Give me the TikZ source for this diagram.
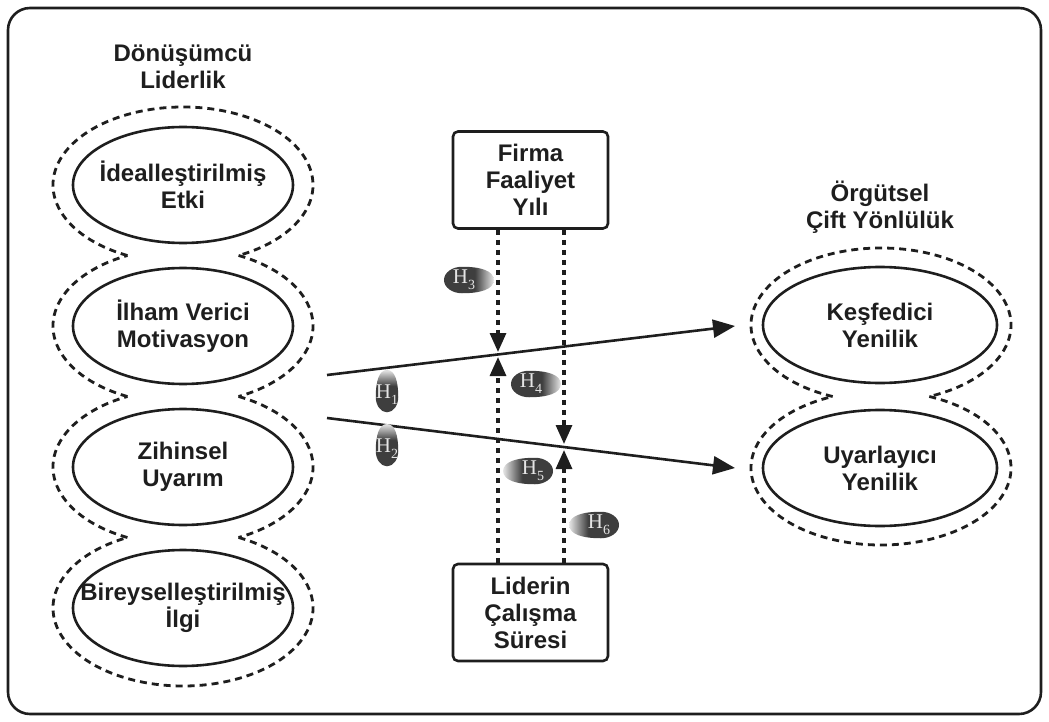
\documentclass[tikz,border=0pt]{standalone}
\usepackage{fontspec}
\setmainfont{Liberation Sans}
\newfontfamily\hfont{Liberation Serif}
\usetikzlibrary{arrows.meta,shapes.geometric}
\definecolor{ink}{HTML}{1E1E1E}
\definecolor{dropc}{HTML}{3E3E3E}
\definecolor{dropl}{HTML}{DDDDDD}
\pgfdeclarehorizontalshading{dropshade}{100bp}{color(0bp)=(dropc); color(25bp)=(dropc); color(56bp)=(dropc); color(74bp)=(dropl); color(100bp)=(dropl)}
\newcommand\hsub[1]{\raisebox{-0.28em}{\fontsize{14}{14}\selectfont #1}}
\begin{document}
\begin{tikzpicture}[x=1pt,y=-1pt,
  txt/.style={align=center,font=\fontsize{24}{27}\selectfont\bfseries,text=ink,inner sep=0pt},
  ellbox/.style={ellipse,draw=ink,line width=2.6pt,minimum width=220pt,minimum height=116pt,inner sep=0pt},
  outl/.style={draw=ink,line width=2.8pt,dash pattern=on 7pt off 5pt},
  boxn/.style={draw=ink,line width=2.6pt,rounded corners=5pt,minimum width=155pt,minimum height=97pt,align=center,font=\fontsize{24}{27}\selectfont\bfseries,text=ink,inner sep=0pt},
  mainarr/.style={draw=ink,line width=2.6pt,-{Triangle[length=22pt,width=18pt]}},
  modarr/.style={draw=ink,line width=3.2pt,dash pattern=on 5pt off 5pt,-{Triangle[length=19pt,width=16pt]}},
  hlab/.style={font=\hfont\fontsize{21}{21}\selectfont,text=white!90!black,inner sep=0pt},
  drop/.pic={\shade[shading=dropshade] (0,12.5) arc[start angle=90,end angle=270,x radius=17,y radius=12.5] .. controls (17,-12.5) and (30,-9) .. (30,0) .. controls (30,9) and (17,12.5) .. cycle;}
]
\useasboundingbox (0,0) rectangle (1049,722);
% frame
\draw[ink,line width=2.6pt,rounded corners=22pt] (8,8) rectangle (1041,714);

% left group outline
\draw[outl] (127.44,255.52) arc[start angle=115.3,end angle=424.7,x radius=130,y radius=78];
\draw[outl] (238.56,255.48) arc[start angle=-64.7,end angle=64.7,x radius=130,y radius=78];
\draw[outl] (127.44,396.52) arc[start angle=115.3,end angle=244.7,x radius=130,y radius=78];
\draw[outl] (238.56,396.48) arc[start angle=-64.7,end angle=64.7,x radius=130,y radius=78];
\draw[outl] (127.44,537.52) arc[start angle=115.3,end angle=244.7,x radius=130,y radius=78];
\draw[outl] (238.56,537.48) arc[start angle=-64.7,end angle=244.7,x radius=130,y radius=78];

% right group outline
\draw[outl] (832.72,396.5) arc[start angle=111.8,end angle=428.2,x radius=130,y radius=77];
\draw[outl] (929.28,396.5) arc[start angle=-68.2,end angle=248.2,x radius=130,y radius=77];

% titles
\node[txt] (tl) at (183,67) {Dönüşümcü\\Liderlik};
\node[txt] (tr) at (880,207) {Örgütsel\\Çift Yönlülük};

% left ellipses
\node[ellbox] (e1) at (183,185) {};
\node[txt] (t1) at (e1) {İdealleştirilmiş\\Etki};
\node[ellbox] (e2) at (183,326) {};
\node[txt] (t2) at (e2) {İlham Verici\\Motivasyon};
\node[ellbox] (e3) at (183,467) {};
\node[txt] (t3) at (e3) {Zihinsel\\Uyarım};
\node[ellbox] (e4) at (183,608) {};
\node[txt] (t4) at (e4) {Bireyselleştirilmiş\\İlgi};

% right ellipses
\node[ellbox,minimum width=234pt] (e5) at (880,325) {};
\node[txt] (t5) at (e5) {Keşfedici\\Yenilik};
\node[ellbox,minimum width=234pt] (e6) at (880,468) {};
\node[txt] (t6) at (e6) {Uyarlayıcı\\Yenilik};

% boxes
\node[boxn] (firma) at (530.5,180) {Firma\\Faaliyet\\Yılı};
\node[boxn] (lider) at (530.5,612.5) {Liderin\\Çalışma\\Süresi};

% main arrows
\coordinate (a1s) at (327,375);
\coordinate (a1e) at (735,326);
\coordinate (a2s) at (327,418);
\coordinate (a2e) at (735,468);
\draw[mainarr] (a1s) -- (a1e);
\draw[mainarr] (a2s) -- (a2e);

% moderator arrows
\coordinate (m1) at (498,352);
\coordinate (m2) at (498,357);
\coordinate (m3) at (564,444);
\coordinate (m4) at (564,450);
\draw[modarr] (firma.south -| m1) -- (m1);
\draw[modarr] (lider.north -| m2) -- (m2);
\draw[modarr] (firma.south -| m3) -- (m3);
\draw[modarr] (lider.north -| m4) -- (m4);

% hypothesis drops
\pic[rotate=90,scale=0.9,shading angle=90] (d1) at (387,397) {drop};
\node[hlab] (h1) at (387,395) {H\hsub{1}};
\pic[rotate=90,scale=0.9,shading angle=90] (d2) at (387,451) {drop};
\node[hlab] (h2) at (387,449) {H\hsub{2}};
\pic[scale=1.06,shading angle=0] (d3) at (462,280) {drop};
\node[hlab] (h3) at (464,280) {H\hsub{3}};
\pic[scale=1.06,shading angle=0] (d4) at (529,384) {drop};
\node[hlab] (h4) at (531,384) {H\hsub{4}};
\pic[scale=1.06,rotate=180,shading angle=180] (d5) at (535,471) {drop};
\node[hlab] (h5) at (533,471) {H\hsub{5}};
\pic[scale=1.06,rotate=180,shading angle=180] (d6) at (601,525) {drop};
\node[hlab] (h6) at (599,525) {H\hsub{6}};
\end{tikzpicture}
\end{document}
